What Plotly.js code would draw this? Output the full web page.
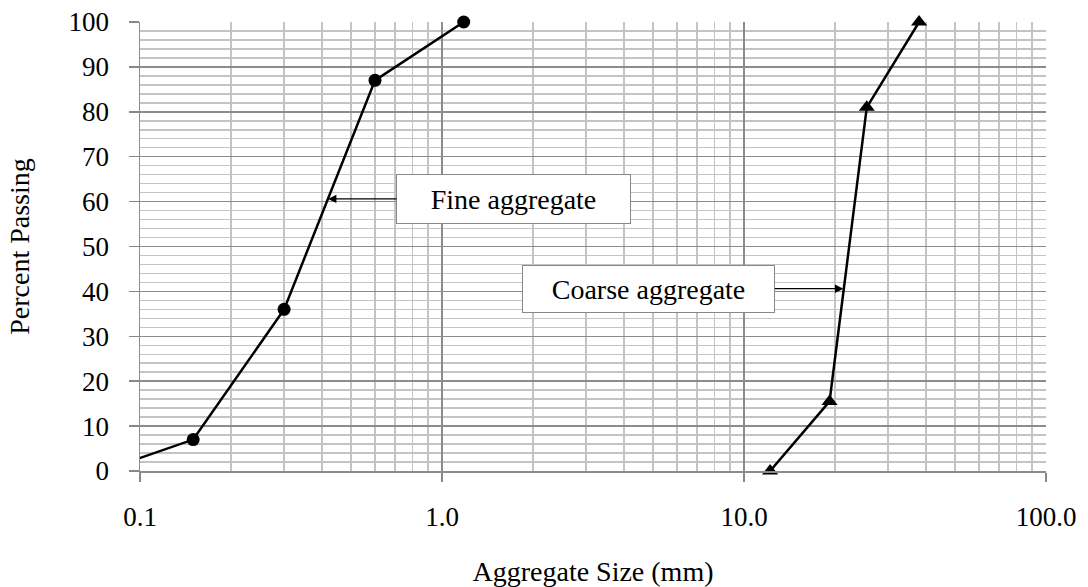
<!DOCTYPE html>
<html>
<head>
<meta charset="utf-8">
<script src="https://cdn.plot.ly/plotly-3.0.1.min.js"></script>
<style>html,body{margin:0;padding:0;background:#fff;}#chart{width:1088px;height:587px;}</style>
</head>
<body>
<div id="chart"></div>
<script>
// Data
var fineSize = [0.075, 0.15, 0.3, 0.6, 1.18];
var finePassing = [0, 7, 36, 87, 100];
var coarseSize = [12.2, 19.2, 25.5, 38];
var coarsePassing = [0, 15.5, 81, 100];
var xTickVals = [0.1, 1, 10, 100];
var xTickText = ['0.1', '1.0', '10.0', '100.0'];
var fineLabel = 'Fine aggregate';
var coarseLabel = 'Coarse aggregate';

var minorX = [];
[0.1, 1, 10].forEach(function (d) { for (var k = 2; k <= 9; k++) minorX.push(+(d * k).toPrecision(3)); });

var FONT = 'Liberation Serif';

// the first fine point lies left of the axis range; its marker is hidden, only the line segment shows
var fineMarkerSize = fineSize.map(function (v) { return v < 0.1 ? 0 : 13; });

var traces = [
  { x: fineSize, y: finePassing, type: 'scatter', mode: 'lines+markers', name: fineLabel,
    line: { color: '#000', width: 2.5 },
    marker: { symbol: 'circle', size: fineMarkerSize, color: '#000', opacity: 1, line: { width: 0 } },
    cliponaxis: false },
  { x: coarseSize, y: coarsePassing, type: 'scatter', mode: 'lines+markers', name: coarseLabel,
    line: { color: '#000', width: 2.5 },
    marker: { symbol: 'triangle-up', size: 14, color: '#000', opacity: 1, line: { width: 0 } },
    cliponaxis: false }
];

var layout = {
  width: 1088, height: 587,
  margin: { l: 140, r: 42, t: 22, b: 116 },
  paper_bgcolor: '#fff', plot_bgcolor: '#fff',
  showlegend: false,
  font: { family: FONT, color: '#000', size: 27 },
  xaxis: {
    type: 'log', range: [-1, 2],
    tickmode: 'array', tickvals: xTickVals, ticktext: xTickText,
    ticks: 'outside', ticklen: 9, tickcolor: '#888', tickwidth: 1.5,
    ticklabelstandoff: 12,
    showgrid: true, gridcolor: '#8c8c8c', gridwidth: 1.5,
    minor: { tickmode: 'array', tickvals: minorX, showgrid: true, gridcolor: '#c4c4c4', gridwidth: 1.5, ticks: '' },
    showline: true, linecolor: '#8c8c8c', linewidth: 1.5,
    zeroline: false, automargin: false,
    tickfont: { family: FONT, size: 27, color: '#000' },
    title: { text: 'Aggregate Size (mm)', font: { family: FONT, size: 28, color: '#000' }, standoff: 36 }
  },
  yaxis: {
    range: [0, 100], dtick: 10, tick0: 0,
    ticks: 'outside', ticklen: 10, tickcolor: '#888', tickwidth: 1.5,
    ticklabelstandoff: 14,
    showgrid: true, gridcolor: '#8c8c8c', gridwidth: 1.5,
    minor: { dtick: 2, showgrid: true, gridcolor: '#c4c4c4', gridwidth: 1.5, ticks: '' },
    showline: true, linecolor: '#8c8c8c', linewidth: 1.5,
    zeroline: false, automargin: false,
    tickfont: { family: FONT, size: 27, color: '#000' },
    title: { text: 'Percent Passing', font: { family: FONT, size: 28, color: '#000' }, standoff: 31 }
  },
  annotations: [
    { x: Math.log10(0.4193), y: 60.6, xref: 'x', yref: 'y',
      ax: Math.log10(1.725), ay: 60.6, axref: 'x', ayref: 'y',
      text: fineLabel, showarrow: true, arrowhead: 2, arrowsize: 1.4, arrowwidth: 1.2, arrowcolor: '#000',
      standoff: 0, startstandoff: 0,
      font: { family: FONT, size: 28, color: '#000' },
      bgcolor: '#fff', bordercolor: '#888', borderwidth: 1, borderpad: 0, width: 233, height: 48 },
    { x: Math.log10(21.33), y: 40.6, xref: 'x', yref: 'y',
      ax: Math.log10(4.84), ay: 40.6, axref: 'x', ayref: 'y',
      text: coarseLabel, showarrow: true, arrowhead: 2, arrowsize: 1.4, arrowwidth: 1.2, arrowcolor: '#000',
      standoff: 0, startstandoff: 0,
      font: { family: FONT, size: 28, color: '#000' },
      bgcolor: '#fff', bordercolor: '#888', borderwidth: 1, borderpad: 0, width: 251, height: 46 }
  ]
};

Plotly.newPlot('chart', traces, layout, { staticPlot: true, displayModeBar: false });
</script>
</body>
</html>
